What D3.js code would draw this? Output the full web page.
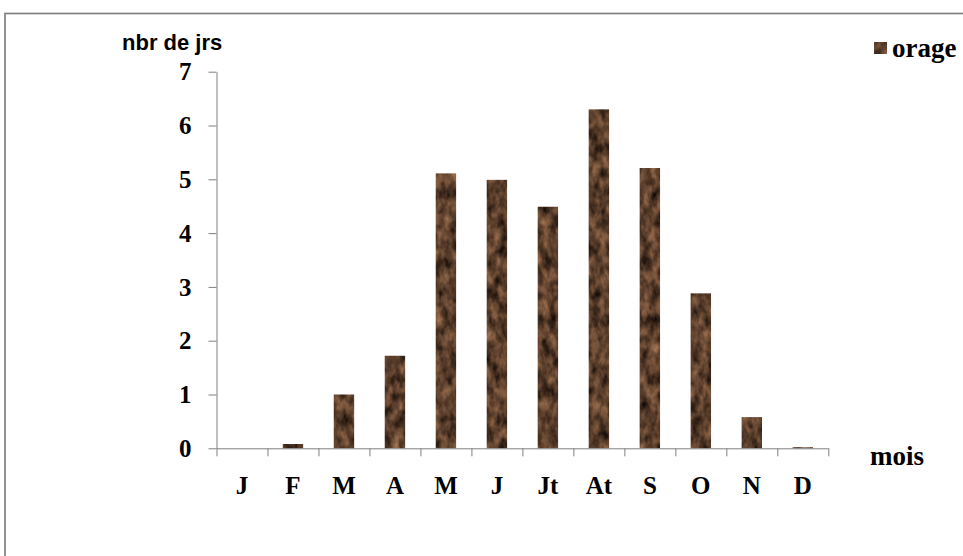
<!DOCTYPE html>
<html>
<head>
<meta charset="utf-8">
<script src="https://cdn.jsdelivr.net/npm/d3@7"></script>
<style>
  body { margin: 0; background: #fff; }
  svg { display: block; }
  .serif { font-family: "Liberation Serif", "Times New Roman", serif; font-weight: bold; fill: #000; }
  .sans { font-family: "Liberation Sans", Arial, sans-serif; font-weight: bold; fill: #000; }
</style>
</head>
<body>
<svg id="chart" width="963" height="556"></svg>
<script>
// months (French abbreviations) and number of storm days
const months = ["J", "F", "M", "A", "M", "J", "Jt", "At", "S", "O", "N", "D"];
const orage = [0, 0.08, 1.0, 1.72, 5.11, 4.99, 4.49, 6.3, 5.21, 2.88, 0.58, 0.02];
const yTicks = [0, 1, 2, 3, 4, 5, 6, 7];
const seriesName = "orage";
const yTitle = "nbr de jrs";
const xTitle = "mois";

const svg = d3.select("#chart");
const plotLeft = 216.5, plotRight = 828.3, plotTop = 71.7, plotBottom = 448.3;
const grey = "#808080";

// brown wood-like texture for the bars
const defs = svg.append("defs");
const filt = defs.append("filter")
    .attr("id", "tex")
    .attr("x", 0).attr("y", 0).attr("width", 1).attr("height", 1)
    .attr("color-interpolation-filters", "sRGB");
filt.append("feTurbulence")
    .attr("type", "fractalNoise")
    .attr("baseFrequency", "0.12 0.07")
    .attr("numOctaves", 3)
    .attr("seed", 7)
    .attr("result", "n");
filt.append("feColorMatrix")
    .attr("in", "n")
    .attr("type", "matrix")
    .attr("values", "0.75 0 0 0 -0.02  0.55 0 0 0 -0.03  0.4 0 0 0 -0.03  0 0 0 0 1")
    .attr("result", "c");
filt.append("feComposite")
    .attr("in", "c").attr("in2", "SourceGraphic").attr("operator", "in");

// outer frame
svg.append("rect")
    .attr("x", 5).attr("y", 13.5)
    .attr("width", 1000).attr("height", 600)
    .attr("fill", "none").attr("stroke", grey).attr("stroke-width", 1.7);

const x = d3.scaleBand().domain(d3.range(months.length)).range([plotLeft, plotRight]).paddingInner(0.6).paddingOuter(0.3);
const xEdges = d3.scaleLinear().domain([0, months.length]).range([plotLeft, plotRight]);
const y = d3.scaleLinear().domain([0, 7]).range([plotBottom, plotTop]);

// bars
svg.append("g").selectAll("rect")
    .data(orage)
    .join("rect")
    .attr("x", (d, i) => x(i))
    .attr("y", d => y(d))
    .attr("width", x.bandwidth())
    .attr("height", d => y(0) - y(d))
    .attr("fill", "#5a3c28")
    .attr("filter", "url(#tex)");

// y axis
const yAxis = svg.append("g")
    .attr("transform", `translate(${plotLeft},0)`)
    .call(d3.axisLeft(y).tickValues(yTicks).tickFormat(d3.format("d")).tickSize(8).tickSizeOuter(0).tickPadding(17));
yAxis.select(".domain").attr("stroke", grey);
yAxis.selectAll(".tick line").attr("stroke", grey);
yAxis.selectAll(".tick text")
    .attr("class", "serif")
    .attr("font-size", 25)
    .attr("dy", "0.33em");

// x axis: tick marks on category boundaries
const xAxis = svg.append("g")
    .attr("transform", `translate(0,${plotBottom})`)
    .call(d3.axisBottom(xEdges).tickValues(d3.range(months.length + 1)).tickFormat("").tickSize(8).tickSizeOuter(0));
xAxis.select(".domain").attr("stroke", grey);
xAxis.selectAll(".tick line").attr("stroke", grey);

// x labels
const xLab = svg.append("g")
    .attr("transform", `translate(0,${plotBottom})`)
    .call(d3.axisBottom(x).tickFormat(i => months[i]).tickSize(0).tickPadding(28));
xLab.select(".domain").remove();
xLab.selectAll(".tick text")
    .attr("class", "serif")
    .attr("font-size", 25)
    .attr("dy", "0.71em");

// titles
svg.append("text").attr("class", "sans")
    .attr("x", 122).attr("y", 49.5)
    .attr("font-size", 22)
    .text(yTitle);

svg.append("text").attr("class", "serif")
    .attr("x", 870).attr("y", 465)
    .attr("font-size", 27)
    .text(xTitle);

// legend
svg.append("rect")
    .attr("x", 874).attr("y", 42)
    .attr("width", 13).attr("height", 12)
    .attr("fill", "#5a3c28")
    .attr("filter", "url(#tex)");
svg.append("text").attr("class", "serif")
    .attr("x", 892).attr("y", 57)
    .attr("font-size", 27)
    .text(seriesName);
</script>
</body>
</html>
